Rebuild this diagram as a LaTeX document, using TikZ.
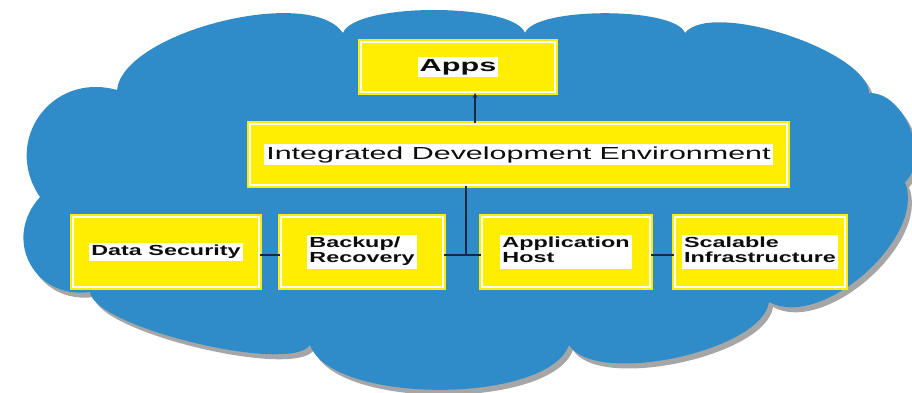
\documentclass[tikz,border=0pt]{standalone}
\usepackage{fontspec}
\setmainfont{Liberation Sans}
\usepackage{graphicx}
\usetikzlibrary{arrows,shadows}
\definecolor{cloudblue}{RGB}{48,140,200}
\definecolor{boxyellow}{RGB}{255,238,0}
\definecolor{linknavy}{RGB}{25,40,65}
\newcommand{\wtext}[2][1.6]{{\setlength{\fboxsep}{2pt}\colorbox{white}{\scalebox{#1}[1]{#2}}}}
\tikzset{box/.style={fill=boxyellow, draw=boxyellow, line width=2pt, double=white, double distance=2pt, inner sep=0pt, text=black!95}}

\begin{document}
\begin{tikzpicture}[x=1pt,y=-1pt]
        \useasboundingbox (0,0) rectangle (912,392);
        \clip (0,0) rectangle (912,392);
        \fill[cloudblue, drop shadow={shadow xshift=4pt, shadow yshift=-5pt, fill=gray!70, opacity=1}]
            (117,90) to[bend left=70, looseness=0.64] (343,33)
            to[bend left=70, looseness=0.46] (525,33)
            to[bend left=70, looseness=0.45] (685,33)
            to[bend left=70, looseness=0.56] (869,93)
            to[bend left=70, looseness=0.94] (905,182)
            to[bend left=70, looseness=0.84] (769,302)
            to[bend left=70, looseness=0.62] (569,345)
            to[bend left=70, looseness=0.63] (310,345)
            to[bend left=70, looseness=0.40] (90,292)
            to[bend left=70, looseness=1.35] (40,197)
            to[bend left=70, looseness=1.32] (117,90) -- cycle;
        \node[box, minimum width=194pt, minimum height=50pt] (apps) at (458,67) {\wtext[1.75]{\fontsize{17.5}{20}\selectfont\bfseries Apps}};
        \node[box, minimum width=537pt, minimum height=61pt] (ide) at (518.5,154.5) {\wtext[1.75]{\fontsize{17.4}{20}\selectfont Integrated Development Environment}};
        \node[box, minimum width=186pt, minimum height=70pt] (datasec) at (166,252) {\wtext{\fontsize{14.6}{15}\selectfont\bfseries Data Security}};
        \node[box, minimum width=162pt, minimum height=70pt] (backup) at (362,252) {\wtext{\fontsize{14.6}{15}\selectfont\bfseries\begin{tabular}{@{}l@{}}Backup/\\Recovery\end{tabular}}};
        \node[box, minimum width=168pt, minimum height=70pt] (apphost) at (566,252) {\wtext{\fontsize{14.6}{15}\selectfont\bfseries\begin{tabular}{@{}l@{}}Application\\Host\end{tabular}}};
        \node[box, minimum width=170pt, minimum height=70pt] (scalable) at (760,252) {\wtext{\fontsize{14.6}{15}\selectfont\bfseries\begin{tabular}{@{}l@{}}Scalable\\Infrastructure\end{tabular}}};
        \coordinate (hub) at (466,255);
        \coordinate (tip) at (475,95);
        \draw[-stealth, linknavy, line width=1.2pt] (ide.north -| tip) -- (apps.south -| tip);
        \draw[linknavy, line width=1.2pt] (ide.south -| hub) -- (hub);
        \draw[linknavy, line width=1.2pt] (datasec.east |- hub) -- (backup.west |- hub);
        \draw[linknavy, line width=1.2pt] (backup.east |- hub) -- (apphost.west |- hub);
        \draw[linknavy, line width=1.2pt] (apphost.east |- hub) -- (scalable.west |- hub);
    \end{tikzpicture}
\end{document}
